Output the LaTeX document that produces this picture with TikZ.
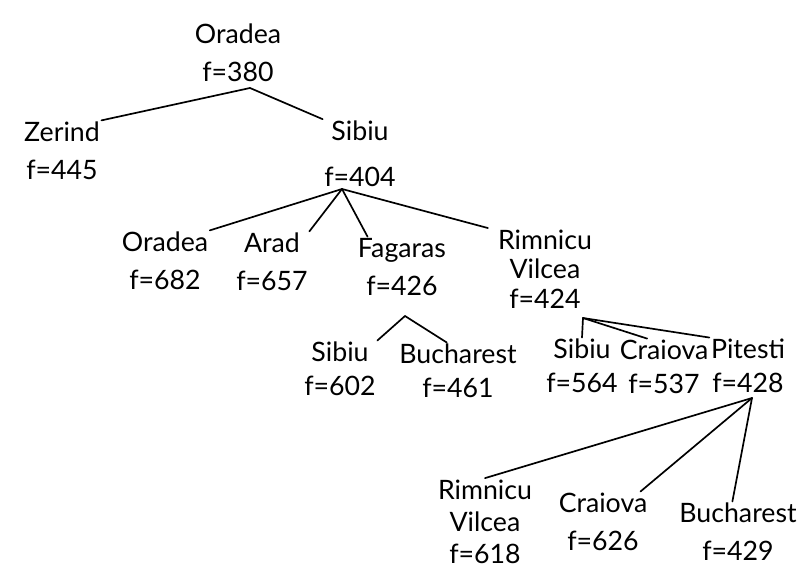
\documentclass[tikz,border=0pt]{standalone}
\usepackage{fontspec}
\setmainfont{Lato}
\usepackage{tikz}

\tikzset{
	state/.style={align=center, inner sep=1pt, font=\fontsize{19}{27}\selectfont},
	branch/.style={-, line width=1.2pt, line cap=round}
}

\begin{document}
\begin{tikzpicture}[x=0.025cm, y=-0.025cm]
	\useasboundingbox (0,0) rectangle (800,579);
	
	\node[state] (oradea) at (238, 53)      {Oradea\\f=380};
	\node[state] (zerind) at (62, 151)      {Zerind\\f=445};
	\node[state] (sibiu) at (360, 154)      {Sibiu\\[6pt]f=404};
	\node[state] (oradeaB) at (165, 261)    {Oradea\\f=682};
	\node[state] (arad) at (272, 262)       {Arad\\f=657};
	\node[state] (fagaras) at (402, 267)    {Fagaras\\f=426};
	\node[state, font=\fontsize{19}{21}\selectfont] (rimnicu) at (545, 269) {Rimnicu\\Vilcea\\f=424};
	\node[state, font=\fontsize{19}{24}\selectfont] (sibiuF) at (340, 369) {Sibiu\\f=602};
	\node[state, font=\fontsize{19}{24}\selectfont] (bucharest) at (458, 371) {Bucharest\\f=461};
	\node[state, font=\fontsize{19}{24}\selectfont] (sibiuR) at (582, 366) {Sibiu\\f=564};
	\node[state, font=\fontsize{19}{24}\selectfont] (craiova) at (664, 367) {Craiova\\f=537};
	\node[state, font=\fontsize{19}{24}\selectfont] (pitesti) at (748, 366) {Pitesti\\f=428};
	\node[state, font=\fontsize{19}{23}\selectfont] (rimnicuP) at (485, 522) {Rimnicu\\Vilcea\\f=618};
	\node[state] (craiovaP) at (603, 522)  {Craiova\\f=626};
	\node[state] (bucharestP) at (738, 532) {Bucharest\\f=429};
	
	\coordinate (oradea-j) at (250, 88);
	\coordinate (sibiu-j) at (342, 189);
	\coordinate (fagaras-j) at (405, 316);
	\coordinate (rimnicu-j) at (583, 318);
	\coordinate (pitesti-j) at (752, 398);
	
	\path[branch] (oradea-j) edge (zerind.north east);
	\path[branch] (oradea-j) edge (sibiu.north west);
	\path[branch] (sibiu-j) edge (oradeaB.north east);
	\path[branch] (sibiu-j) edge (arad.north east);
	\path[branch] (sibiu-j) edge ([xshift=8pt]fagaras.north west);
	\path[branch] (sibiu-j) edge ([xshift=-6pt]rimnicu.north west);
	\path[branch] (fagaras-j) edge (sibiuF.north east);
	\path[branch] (fagaras-j) edge ([xshift=-8pt]bucharest.north);
	\path[branch] (rimnicu-j) edge (sibiuR.north);
	\path[branch] (rimnicu-j) edge ([xshift=-12pt]craiova.north);
	\path[branch] (rimnicu-j) edge (pitesti.north west);
	\path[branch] (pitesti-j) edge (rimnicuP.north);
	\path[branch] (pitesti-j) edge ([xshift=-6pt]craiovaP.north east);
	\path[branch] (pitesti-j) edge ([xshift=-4pt]bucharestP.north);

\end{tikzpicture}
\end{document}
